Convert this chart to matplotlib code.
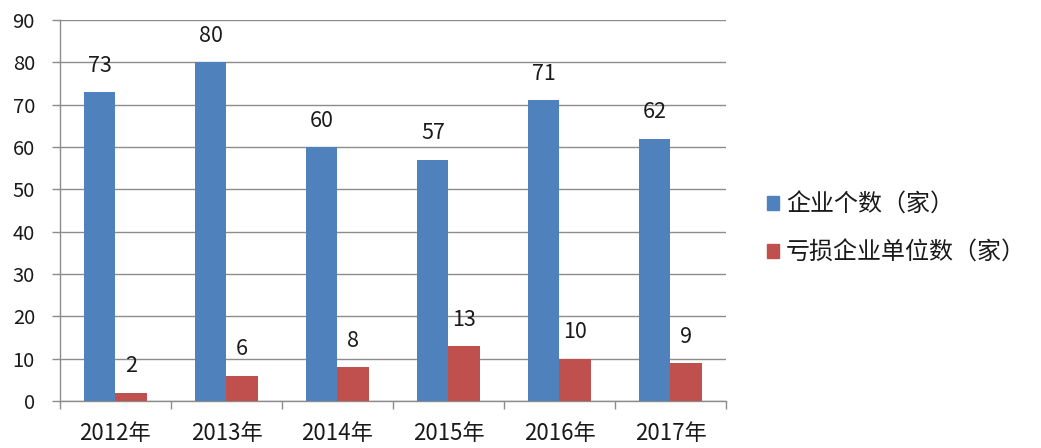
import numpy as np
import matplotlib.pyplot as plt
from matplotlib.patches import Patch

plt.rcParams['font.family'] = ['Noto Sans CJK SC', 'DejaVu Sans']

years = ['2012年', '2013年', '2014年', '2015年', '2016年', '2017年']
companies = [73, 80, 60, 57, 71, 62]
loss_companies = [2, 6, 8, 13, 10, 9]

blue = '#4F81BD'
red = '#C0504D'
grid_col = '#8C8C8C'
text_col = '#1a1a1a'

fig = plt.figure(figsize=(10.41, 4.48), dpi=100)
ax = fig.add_axes([0.0576, 0.1049, 0.6398, 0.8505])

x = np.arange(len(years))
w = 0.28
b1 = ax.bar(x - w / 2, companies, w, color=blue, zorder=3)
b2 = ax.bar(x + w / 2, loss_companies, w, color=red, zorder=3)

# value labels sit a little above each bar
for bars, vals in ((b1, companies), (b2, loss_companies)):
    for rect, v in zip(bars, vals):
        ax.annotate(str(v), (rect.get_x() + rect.get_width() / 2, v),
                    xytext=(0, 19), textcoords='offset points',
                    ha='center', va='center', fontsize=15.5, color=text_col)

ax.set_xlim(-0.5, len(years) - 0.5)
ax.set_ylim(0, 90)
ax.set_yticks(range(0, 91, 10))
ax.yaxis.grid(True, color=grid_col, linewidth=1.0, zorder=0)

ax.set_xticks(x)
ax.set_xticklabels(years, fontsize=16, color=text_col)
ax.set_xticks(np.arange(-0.5, len(years)), minor=True)
ax.tick_params(axis='x', which='major', length=0, pad=15)
ax.tick_params(axis='x', which='minor', length=6, color=grid_col, width=1.0)
ax.tick_params(axis='y', length=6, color=grid_col, width=1.0, labelsize=14.5,
               labelcolor=text_col, pad=12)

for side in ['top', 'right']:
    ax.spines[side].set_visible(False)
for side in ['left', 'bottom']:
    ax.spines[side].set_color(grid_col)
    ax.spines[side].set_linewidth(1.0)

handles = [Patch(color=blue, label='企业个数（家）'),
           Patch(color=red, label='亏损企业单位数（家）')]
fig.legend(handles=handles, loc='center left', bbox_to_anchor=(0.716, 0.49),
           frameon=False, fontsize=17.3, handlelength=0.5, handleheight=0.5,
           handletextpad=0.3, labelspacing=0.9, labelcolor=text_col)

fig.savefig('out.png', dpi=100)
